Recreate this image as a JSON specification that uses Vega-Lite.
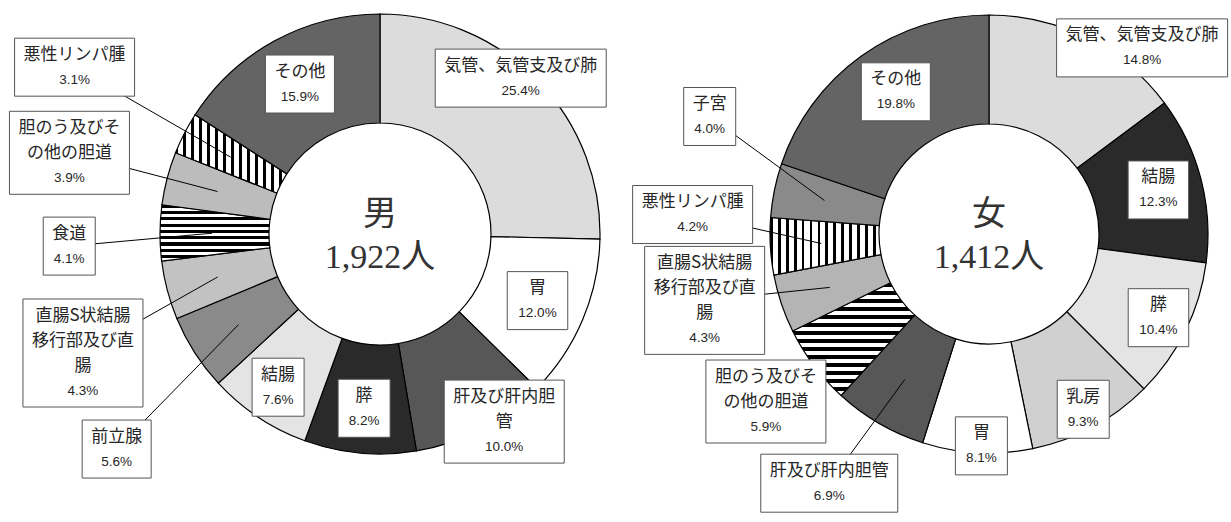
{
  "$schema": "https://vega.github.io/schema/vega-lite/v6.json",
  "padding": 0,
  "background": "#ffffff",
  "bounds": "flush",
  "spacing": 0,
  "config": {"view": {"stroke": null}},
  "datasets": {
    "sites": [
      {"gender": "男", "site": "気管、気管支及び肺", "pct": 25.4},
      {"gender": "男", "site": "胃", "pct": 12.0},
      {"gender": "男", "site": "肝及び肝内胆管", "pct": 10.0},
      {"gender": "男", "site": "膵", "pct": 8.2},
      {"gender": "男", "site": "結腸", "pct": 7.6},
      {"gender": "男", "site": "前立腺", "pct": 5.6},
      {"gender": "男", "site": "直腸S状結腸移行部及び直腸", "pct": 4.3},
      {"gender": "男", "site": "食道", "pct": 4.1},
      {"gender": "男", "site": "胆のう及びその他の胆道", "pct": 3.9},
      {"gender": "男", "site": "悪性リンパ腫", "pct": 3.1},
      {"gender": "男", "site": "その他", "pct": 15.9},
      {"gender": "女", "site": "気管、気管支及び肺", "pct": 14.8},
      {"gender": "女", "site": "結腸", "pct": 12.3},
      {"gender": "女", "site": "膵", "pct": 10.4},
      {"gender": "女", "site": "乳房", "pct": 9.3},
      {"gender": "女", "site": "胃", "pct": 8.1},
      {"gender": "女", "site": "肝及び肝内胆管", "pct": 6.9},
      {"gender": "女", "site": "胆のう及びその他の胆道", "pct": 5.9},
      {"gender": "女", "site": "直腸S状結腸移行部及び直腸", "pct": 4.3},
      {"gender": "女", "site": "悪性リンパ腫", "pct": 4.2},
      {"gender": "女", "site": "子宮", "pct": 4.0},
      {"gender": "女", "site": "その他", "pct": 19.8}
    ],
    "totals": [
      {"gender": "男", "n": 1922},
      {"gender": "女", "n": 1412}
    ]
  },
  "hconcat": [
    {
      "width": 760,
      "height": 468,
      "data": {"name": "sites"},
      "transform": [
        {"filter": "datum.gender === '男'"},
        {"window": [{"op": "row_number", "as": "ord"}]},
        {"stack": "pct", "groupby": ["gender"], "sort": [{"field": "ord", "order": "ascending"}], "offset": "normalize", "as": ["f0", "f1"]},
        {"calculate": "(datum.f0 + datum.f1) * PI", "as": "amid"},
        {"calculate": "({'気管、気管支及び肺': [210, -3.6], '胃': [171, 0], '肝及び肝内胆管': [225, -6], '膵': [175, 0], '結腸': [184, 0], '前立腺': [340, -6.6], '直腸S状結腸移行部及び直腸': [320, -7], '食道': [311, -2.5], '胆のう及びその他の胆道': [321, 0], '悪性リンパ腫': [348, 1.4], 'その他': [170, 0.5]})[datum.site]", "as": "place"},
        {"calculate": "({'胆のう及びその他の胆道': '胆のう及びそ|の他の胆道', '直腸S状結腸移行部及び直腸': '直腸S状結腸|移行部及び直|腸', '肝及び肝内胆管': '肝及び肝内胆|管'})[datum.site] || datum.site", "as": "name"},
        {"calculate": "datum.amid + datum.place[1] * PI / 180", "as": "alab"},
        {"calculate": "datum.place[0] * sin(datum.alab)", "as": "lx"},
        {"calculate": "-datum.place[0] * cos(datum.alab)", "as": "ly"},
        {"calculate": "168 * sin(datum.amid)", "as": "px"},
        {"calculate": "-168 * cos(datum.amid)", "as": "py"},
        {"calculate": "split(datum.name, '|')", "as": "lines"},
        {"calculate": "length(datum.lines)", "as": "nl"},
        {"calculate": "format(datum.pct, '.1f') + '%'", "as": "ptxt"},
        {"calculate": "max(length(datum.lines[0]), datum.nl > 1 ? length(datum.lines[1]) : 0, datum.nl > 2 ? length(datum.lines[2]) : 0) * 17", "as": "tw"},
        {"calculate": "max(datum.tw, length(datum.ptxt) * 8.5) + 18", "as": "bw"},
        {"calculate": "(datum.nl + 1) * 25 + 8", "as": "bh"},
        {"calculate": "datum.lx - datum.bw / 2", "as": "bx0"},
        {"calculate": "datum.lx + datum.bw / 2", "as": "bx1"},
        {"calculate": "datum.ly - datum.bh / 2", "as": "by0"},
        {"calculate": "datum.ly + datum.bh / 2", "as": "by1"},
        {"calculate": "datum.ly - datum.nl * 12.5", "as": "ny"},
        {"calculate": "datum.ly + datum.nl * 12.5", "as": "qy"}
      ],
      "layer": [
        {
          "mark": {"type": "arc", "radius": 220, "radius2": 111, "stroke": "#000000", "strokeWidth": 1.2},
          "encoding": {
            "theta": {"field": "f0", "type": "quantitative", "stack": null, "scale": {"domain": [0, 1], "range": [0, 6.283185307179586], "nice": false, "zero": true}},
            "theta2": {"field": "f1"},
            "fill": {
              "condition": [
                {"test": "datum.site === '気管、気管支及び肺'", "value": "#dcdcdc"},
                {"test": "datum.site === '胃'", "value": "#ffffff"},
                {"test": "datum.site === '肝及び肝内胆管'", "value": "#575757"},
                {"test": "datum.site === '膵'", "value": "#2a2a2a"},
                {"test": "datum.site === '結腸'", "value": "#e4e4e4"},
                {"test": "datum.site === '前立腺'", "value": "#8a8a8a"},
                {"test": "datum.site === '直腸S状結腸移行部及び直腸'", "value": "#c2c2c2"},
                {"test": "datum.site === '食道'", "value": {"gradient": "linear", "x1": 0, "y1": 0, "x2": 0, "y2": 1, "stops": [{"offset":0,"color":"#000"},{"offset":0.0556,"color":"#000"},{"offset":0.0556,"color":"#fff"},{"offset":0.1111,"color":"#fff"},{"offset":0.1111,"color":"#000"},{"offset":0.1667,"color":"#000"},{"offset":0.1667,"color":"#fff"},{"offset":0.2222,"color":"#fff"},{"offset":0.2222,"color":"#000"},{"offset":0.2778,"color":"#000"},{"offset":0.2778,"color":"#fff"},{"offset":0.3333,"color":"#fff"},{"offset":0.3333,"color":"#000"},{"offset":0.3889,"color":"#000"},{"offset":0.3889,"color":"#fff"},{"offset":0.4444,"color":"#fff"},{"offset":0.4444,"color":"#000"},{"offset":0.5,"color":"#000"},{"offset":0.5,"color":"#fff"},{"offset":0.5556,"color":"#fff"},{"offset":0.5556,"color":"#000"},{"offset":0.6111,"color":"#000"},{"offset":0.6111,"color":"#fff"},{"offset":0.6667,"color":"#fff"},{"offset":0.6667,"color":"#000"},{"offset":0.7222,"color":"#000"},{"offset":0.7222,"color":"#fff"},{"offset":0.7778,"color":"#fff"},{"offset":0.7778,"color":"#000"},{"offset":0.8333,"color":"#000"},{"offset":0.8333,"color":"#fff"},{"offset":0.8889,"color":"#fff"},{"offset":0.8889,"color":"#000"},{"offset":0.9444,"color":"#000"},{"offset":0.9444,"color":"#fff"},{"offset":1,"color":"#fff"}]}},
                {"test": "datum.site === '胆のう及びその他の胆道'", "value": "#bcbcbc"},
                {"test": "datum.site === '悪性リンパ腫'", "value": {"gradient": "linear", "x1": 0, "y1": 0, "x2": 1, "y2": 0, "stops": [{"offset":0,"color":"#000"},{"offset":0.025,"color":"#000"},{"offset":0.025,"color":"#fff"},{"offset":0.0714,"color":"#fff"},{"offset":0.0714,"color":"#000"},{"offset":0.0964,"color":"#000"},{"offset":0.0964,"color":"#fff"},{"offset":0.1429,"color":"#fff"},{"offset":0.1429,"color":"#000"},{"offset":0.1679,"color":"#000"},{"offset":0.1679,"color":"#fff"},{"offset":0.2143,"color":"#fff"},{"offset":0.2143,"color":"#000"},{"offset":0.2393,"color":"#000"},{"offset":0.2393,"color":"#fff"},{"offset":0.2857,"color":"#fff"},{"offset":0.2857,"color":"#000"},{"offset":0.3107,"color":"#000"},{"offset":0.3107,"color":"#fff"},{"offset":0.3571,"color":"#fff"},{"offset":0.3571,"color":"#000"},{"offset":0.3821,"color":"#000"},{"offset":0.3821,"color":"#fff"},{"offset":0.4286,"color":"#fff"},{"offset":0.4286,"color":"#000"},{"offset":0.4536,"color":"#000"},{"offset":0.4536,"color":"#fff"},{"offset":0.5,"color":"#fff"},{"offset":0.5,"color":"#000"},{"offset":0.525,"color":"#000"},{"offset":0.525,"color":"#fff"},{"offset":0.5714,"color":"#fff"},{"offset":0.5714,"color":"#000"},{"offset":0.5964,"color":"#000"},{"offset":0.5964,"color":"#fff"},{"offset":0.6429,"color":"#fff"},{"offset":0.6429,"color":"#000"},{"offset":0.6679,"color":"#000"},{"offset":0.6679,"color":"#fff"},{"offset":0.7143,"color":"#fff"},{"offset":0.7143,"color":"#000"},{"offset":0.7393,"color":"#000"},{"offset":0.7393,"color":"#fff"},{"offset":0.7857,"color":"#fff"},{"offset":0.7857,"color":"#000"},{"offset":0.8107,"color":"#000"},{"offset":0.8107,"color":"#fff"},{"offset":0.8571,"color":"#fff"},{"offset":0.8571,"color":"#000"},{"offset":0.8821,"color":"#000"},{"offset":0.8821,"color":"#fff"},{"offset":0.9286,"color":"#fff"},{"offset":0.9286,"color":"#000"},{"offset":0.9536,"color":"#000"},{"offset":0.9536,"color":"#fff"},{"offset":1,"color":"#fff"}]}},
                {"test": "datum.site === 'その他'", "value": "#646464"}
              ],
              "value": "#999999"
            }
          }
        },
        {
          "transform": [{"filter": "datum.place[0] > 285"}],
          "mark": {"type": "rule", "stroke": "#000000", "strokeWidth": 1},
          "encoding": {
            "x": {"field": "px", "type": "quantitative", "scale": {"domain": [-380, 380], "nice": false, "zero": false}, "axis": null},
            "y": {"field": "py", "type": "quantitative", "scale": {"domain": [-234, 234], "reverse": true, "nice": false, "zero": false}, "axis": null},
            "x2": {"field": "lx"},
            "y2": {"field": "ly"}
          }
        },
        {
          "mark": {"type": "rect", "fill": "#ffffff", "stroke": "#555555", "strokeWidth": 1},
          "encoding": {
            "x": {"field": "bx0", "type": "quantitative", "scale": {"domain": [-380, 380], "nice": false, "zero": false}, "axis": null},
            "x2": {"field": "bx1"},
            "y": {"field": "by0", "type": "quantitative", "scale": {"domain": [-234, 234], "reverse": true, "nice": false, "zero": false}, "axis": null},
            "y2": {"field": "by1"}
          }
        },
        {
          "mark": {"type": "text", "font": "Noto Sans CJK JP", "fontSize": 17, "lineBreak": "|", "lineHeight": 25, "align": "center", "baseline": "middle", "fill": "#262626"},
          "encoding": {
            "x": {"field": "lx", "type": "quantitative", "scale": {"domain": [-380, 380], "nice": false, "zero": false}, "axis": null},
            "y": {"field": "ny", "type": "quantitative", "scale": {"domain": [-234, 234], "reverse": true, "nice": false, "zero": false}, "axis": null},
            "text": {"field": "name"}
          }
        },
        {
          "mark": {"type": "text", "font": "Liberation Sans", "fontSize": 13.5, "align": "center", "baseline": "middle", "fill": "#262626"},
          "encoding": {
            "x": {"field": "lx", "type": "quantitative", "scale": {"domain": [-380, 380], "nice": false, "zero": false}, "axis": null},
            "y": {"field": "qy", "type": "quantitative", "scale": {"domain": [-234, 234], "reverse": true, "nice": false, "zero": false}, "axis": null},
            "text": {"field": "ptxt"}
          }
        },
        {
          "data": {"name": "totals"},
          "transform": [
            {"filter": "datum.gender === '男'"},
            {"calculate": "datum.gender + '|' + format(datum.n, ',') + '人'", "as": "ctext"}
          ],
          "mark": {"type": "text", "font": "Liberation Serif, Noto Sans CJK JP", "fontSize": 34, "lineBreak": "|", "lineHeight": 43, "align": "center", "baseline": "middle", "fill": "#333333", "dy": -19},
          "encoding": {
            "x": {"datum": 0, "type": "quantitative", "scale": {"domain": [-380, 380], "nice": false, "zero": false}, "axis": null},
            "y": {"datum": 0, "type": "quantitative", "scale": {"domain": [-234, 234], "reverse": true, "nice": false, "zero": false}, "axis": null},
            "text": {"field": "ctext"}
          }
        }
      ]
    },
    {
      "width": 458,
      "height": 468,
      "data": {"name": "sites"},
      "transform": [
        {"filter": "datum.gender === '女'"},
        {"window": [{"op": "row_number", "as": "ord"}]},
        {"stack": "pct", "groupby": ["gender"], "sort": [{"field": "ord", "order": "ascending"}], "offset": "normalize", "as": ["f0", "f1"]},
        {"calculate": "(datum.f0 + datum.f1) * PI", "as": "amid"},
        {"calculate": "({'気管、気管支及び肺': [241, 12.8], '結腸': [175, 0], '膵': [189, 0], '乳房': [199, 0], '胃': [212, -1], '肝及び肝内胆管': [296, 2.6], '胆のう及びその他の胆道': [279, 0], '直腸S状結腸移行部及び直腸': [292, 5.4], '悪性リンパ腫': [297, 7], '子宮': [303, 11.3], 'その他': [170, 2.4]})[datum.site]", "as": "place"},
        {"calculate": "({'胆のう及びその他の胆道': '胆のう及びそ|の他の胆道', '直腸S状結腸移行部及び直腸': '直腸S状結腸|移行部及び直|腸'})[datum.site] || datum.site", "as": "name"},
        {"calculate": "datum.amid + datum.place[1] * PI / 180", "as": "alab"},
        {"calculate": "datum.place[0] * sin(datum.alab)", "as": "lx"},
        {"calculate": "-datum.place[0] * cos(datum.alab)", "as": "ly"},
        {"calculate": "168 * sin(datum.amid)", "as": "px"},
        {"calculate": "-168 * cos(datum.amid)", "as": "py"},
        {"calculate": "split(datum.name, '|')", "as": "lines"},
        {"calculate": "length(datum.lines)", "as": "nl"},
        {"calculate": "format(datum.pct, '.1f') + '%'", "as": "ptxt"},
        {"calculate": "max(length(datum.lines[0]), datum.nl > 1 ? length(datum.lines[1]) : 0, datum.nl > 2 ? length(datum.lines[2]) : 0) * 17", "as": "tw"},
        {"calculate": "max(datum.tw, length(datum.ptxt) * 8.5) + 18", "as": "bw"},
        {"calculate": "(datum.nl + 1) * 25 + 8", "as": "bh"},
        {"calculate": "datum.lx - datum.bw / 2", "as": "bx0"},
        {"calculate": "datum.lx + datum.bw / 2", "as": "bx1"},
        {"calculate": "datum.ly - datum.bh / 2", "as": "by0"},
        {"calculate": "datum.ly + datum.bh / 2", "as": "by1"},
        {"calculate": "datum.ly - datum.nl * 12.5", "as": "ny"},
        {"calculate": "datum.ly + datum.nl * 12.5", "as": "qy"}
      ],
      "layer": [
        {
          "mark": {"type": "arc", "radius": 219, "radius2": 110, "stroke": "#000000", "strokeWidth": 1.2},
          "encoding": {
            "theta": {"field": "f0", "type": "quantitative", "stack": null, "scale": {"domain": [0, 1], "range": [0, 6.283185307179586], "nice": false, "zero": true}},
            "theta2": {"field": "f1"},
            "fill": {
              "condition": [
                {"test": "datum.site === '気管、気管支及び肺'", "value": "#dcdcdc"},
                {"test": "datum.site === '結腸'", "value": "#2a2a2a"},
                {"test": "datum.site === '膵'", "value": "#e4e4e4"},
                {"test": "datum.site === '乳房'", "value": "#d0d0d0"},
                {"test": "datum.site === '胃'", "value": "#ffffff"},
                {"test": "datum.site === '肝及び肝内胆管'", "value": "#575757"},
                {"test": "datum.site === '胆のう及びその他の胆道'", "value": {"gradient": "linear", "x1": 0, "y1": 0, "x2": 0, "y2": 1, "stops": [{"offset":0,"color":"#000"},{"offset":0.0357,"color":"#000"},{"offset":0.0357,"color":"#fff"},{"offset":0.0714,"color":"#fff"},{"offset":0.0714,"color":"#000"},{"offset":0.1071,"color":"#000"},{"offset":0.1071,"color":"#fff"},{"offset":0.1429,"color":"#fff"},{"offset":0.1429,"color":"#000"},{"offset":0.1786,"color":"#000"},{"offset":0.1786,"color":"#fff"},{"offset":0.2143,"color":"#fff"},{"offset":0.2143,"color":"#000"},{"offset":0.25,"color":"#000"},{"offset":0.25,"color":"#fff"},{"offset":0.2857,"color":"#fff"},{"offset":0.2857,"color":"#000"},{"offset":0.3214,"color":"#000"},{"offset":0.3214,"color":"#fff"},{"offset":0.3571,"color":"#fff"},{"offset":0.3571,"color":"#000"},{"offset":0.3929,"color":"#000"},{"offset":0.3929,"color":"#fff"},{"offset":0.4286,"color":"#fff"},{"offset":0.4286,"color":"#000"},{"offset":0.4643,"color":"#000"},{"offset":0.4643,"color":"#fff"},{"offset":0.5,"color":"#fff"},{"offset":0.5,"color":"#000"},{"offset":0.5357,"color":"#000"},{"offset":0.5357,"color":"#fff"},{"offset":0.5714,"color":"#fff"},{"offset":0.5714,"color":"#000"},{"offset":0.6071,"color":"#000"},{"offset":0.6071,"color":"#fff"},{"offset":0.6429,"color":"#fff"},{"offset":0.6429,"color":"#000"},{"offset":0.6786,"color":"#000"},{"offset":0.6786,"color":"#fff"},{"offset":0.7143,"color":"#fff"},{"offset":0.7143,"color":"#000"},{"offset":0.75,"color":"#000"},{"offset":0.75,"color":"#fff"},{"offset":0.7857,"color":"#fff"},{"offset":0.7857,"color":"#000"},{"offset":0.8214,"color":"#000"},{"offset":0.8214,"color":"#fff"},{"offset":0.8571,"color":"#fff"},{"offset":0.8571,"color":"#000"},{"offset":0.8929,"color":"#000"},{"offset":0.8929,"color":"#fff"},{"offset":0.9286,"color":"#fff"},{"offset":0.9286,"color":"#000"},{"offset":0.9643,"color":"#000"},{"offset":0.9643,"color":"#fff"},{"offset":1,"color":"#fff"}]}},
                {"test": "datum.site === '直腸S状結腸移行部及び直腸'", "value": "#b4b4b4"},
                {"test": "datum.site === '悪性リンパ腫'", "value": {"gradient": "linear", "x1": 0, "y1": 0, "x2": 1, "y2": 0, "stops": [{"offset":0,"color":"#000"},{"offset":0.025,"color":"#000"},{"offset":0.025,"color":"#fff"},{"offset":0.0714,"color":"#fff"},{"offset":0.0714,"color":"#000"},{"offset":0.0964,"color":"#000"},{"offset":0.0964,"color":"#fff"},{"offset":0.1429,"color":"#fff"},{"offset":0.1429,"color":"#000"},{"offset":0.1679,"color":"#000"},{"offset":0.1679,"color":"#fff"},{"offset":0.2143,"color":"#fff"},{"offset":0.2143,"color":"#000"},{"offset":0.2393,"color":"#000"},{"offset":0.2393,"color":"#fff"},{"offset":0.2857,"color":"#fff"},{"offset":0.2857,"color":"#000"},{"offset":0.3107,"color":"#000"},{"offset":0.3107,"color":"#fff"},{"offset":0.3571,"color":"#fff"},{"offset":0.3571,"color":"#000"},{"offset":0.3821,"color":"#000"},{"offset":0.3821,"color":"#fff"},{"offset":0.4286,"color":"#fff"},{"offset":0.4286,"color":"#000"},{"offset":0.4536,"color":"#000"},{"offset":0.4536,"color":"#fff"},{"offset":0.5,"color":"#fff"},{"offset":0.5,"color":"#000"},{"offset":0.525,"color":"#000"},{"offset":0.525,"color":"#fff"},{"offset":0.5714,"color":"#fff"},{"offset":0.5714,"color":"#000"},{"offset":0.5964,"color":"#000"},{"offset":0.5964,"color":"#fff"},{"offset":0.6429,"color":"#fff"},{"offset":0.6429,"color":"#000"},{"offset":0.6679,"color":"#000"},{"offset":0.6679,"color":"#fff"},{"offset":0.7143,"color":"#fff"},{"offset":0.7143,"color":"#000"},{"offset":0.7393,"color":"#000"},{"offset":0.7393,"color":"#fff"},{"offset":0.7857,"color":"#fff"},{"offset":0.7857,"color":"#000"},{"offset":0.8107,"color":"#000"},{"offset":0.8107,"color":"#fff"},{"offset":0.8571,"color":"#fff"},{"offset":0.8571,"color":"#000"},{"offset":0.8821,"color":"#000"},{"offset":0.8821,"color":"#fff"},{"offset":0.9286,"color":"#fff"},{"offset":0.9286,"color":"#000"},{"offset":0.9536,"color":"#000"},{"offset":0.9536,"color":"#fff"},{"offset":1,"color":"#fff"}]}},
                {"test": "datum.site === '子宮'", "value": "#8a8a8a"},
                {"test": "datum.site === 'その他'", "value": "#646464"}
              ],
              "value": "#999999"
            }
          }
        },
        {
          "transform": [{"filter": "datum.place[0] > 285"}],
          "mark": {"type": "rule", "stroke": "#000000", "strokeWidth": 1},
          "encoding": {
            "x": {"field": "px", "type": "quantitative", "scale": {"domain": [-229, 229], "nice": false, "zero": false}, "axis": null},
            "y": {"field": "py", "type": "quantitative", "scale": {"domain": [-234, 234], "reverse": true, "nice": false, "zero": false}, "axis": null},
            "x2": {"field": "lx"},
            "y2": {"field": "ly"}
          }
        },
        {
          "mark": {"type": "rect", "fill": "#ffffff", "stroke": "#555555", "strokeWidth": 1},
          "encoding": {
            "x": {"field": "bx0", "type": "quantitative", "scale": {"domain": [-229, 229], "nice": false, "zero": false}, "axis": null},
            "x2": {"field": "bx1"},
            "y": {"field": "by0", "type": "quantitative", "scale": {"domain": [-234, 234], "reverse": true, "nice": false, "zero": false}, "axis": null},
            "y2": {"field": "by1"}
          }
        },
        {
          "mark": {"type": "text", "font": "Noto Sans CJK JP", "fontSize": 17, "lineBreak": "|", "lineHeight": 25, "align": "center", "baseline": "middle", "fill": "#262626"},
          "encoding": {
            "x": {"field": "lx", "type": "quantitative", "scale": {"domain": [-229, 229], "nice": false, "zero": false}, "axis": null},
            "y": {"field": "ny", "type": "quantitative", "scale": {"domain": [-234, 234], "reverse": true, "nice": false, "zero": false}, "axis": null},
            "text": {"field": "name"}
          }
        },
        {
          "mark": {"type": "text", "font": "Liberation Sans", "fontSize": 13.5, "align": "center", "baseline": "middle", "fill": "#262626"},
          "encoding": {
            "x": {"field": "lx", "type": "quantitative", "scale": {"domain": [-229, 229], "nice": false, "zero": false}, "axis": null},
            "y": {"field": "qy", "type": "quantitative", "scale": {"domain": [-234, 234], "reverse": true, "nice": false, "zero": false}, "axis": null},
            "text": {"field": "ptxt"}
          }
        },
        {
          "data": {"name": "totals"},
          "transform": [
            {"filter": "datum.gender === '女'"},
            {"calculate": "datum.gender + '|' + format(datum.n, ',') + '人'", "as": "ctext"}
          ],
          "mark": {"type": "text", "font": "Liberation Serif, Noto Sans CJK JP", "fontSize": 34, "lineBreak": "|", "lineHeight": 43, "align": "center", "baseline": "middle", "fill": "#333333", "dy": -19},
          "encoding": {
            "x": {"datum": 0, "type": "quantitative", "scale": {"domain": [-229, 229], "nice": false, "zero": false}, "axis": null},
            "y": {"datum": 0, "type": "quantitative", "scale": {"domain": [-234, 234], "reverse": true, "nice": false, "zero": false}, "axis": null},
            "text": {"field": "ctext"}
          }
        }
      ]
    }
  ]
}
